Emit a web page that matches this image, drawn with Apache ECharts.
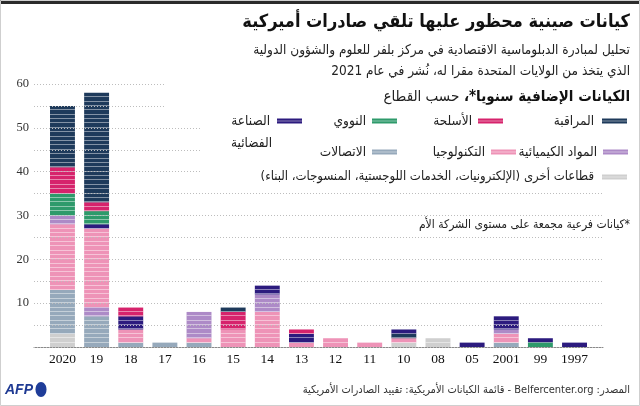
<!DOCTYPE html>
<html>
<head>
<meta charset="utf-8">
<script src="https://cdn.jsdelivr.net/npm/echarts@6/dist/echarts.min.js"></script>
<style>
html,body{margin:0;padding:0;background:#fff;}
#c{width:640px;height:406px;}
</style>
</head>
<body>
<div id="c" dir="rtl"></div>
<script>
// ---- Data ----
const years = ['2020','19','18','17','16','15','14','13','12','11','10','08','05','2001','99','1997'];
const surveillance = [14,25,0,0,0,1,0,0,0,0,1,0,0,0,0,0];
const weapons      = [6, 2, 2,0,0,4,0,1,0,0,0,0,0,0,0,0];
const nuclear      = [5, 3, 0,0,0,0,0,0,0,0,0,0,0,0,1,0];
const aerospace    = [0, 1, 3,0,0,0,2,2,0,0,1,0,1,3,1,1];
const chemicals    = [2, 2, 0,0,6,0,4,0,0,0,0,0,0,1,0,0];
const technology   = [15,18,3,0,1,4,8,1,2,1,1,0,0,2,0,0];
const telecom      = [10,7, 1,1,1,0,0,0,0,0,0,0,0,1,0,0];
const other        = [3, 0, 0,0,0,0,0,0,0,0,1,2,0,0,0,0];
const yTicks = [10,20,30,40,50,60];

const sectorNames = {
  surveillance:'المراقبة', weapons:'الأسلحة', nuclear:'النووي', aerospace:'الصناعة الفضائية',
  chemicals:'المواد الكيميائية', technology:'التكنولوجيا', telecom:'الاتصالات',
  other:'قطاعات أخرى (الإلكترونيات، الخدمات اللوجستية، المنسوجات، البناء)'
};
const defaultOrder = ['other','telecom','technology','chemicals','aerospace','nuclear','weapons','surveillance'];
const stackOrderOverrides = {
  '19': ['other','telecom','chemicals','technology','aerospace','nuclear','weapons','surveillance'],
  '10': ['other','telecom','technology','chemicals','surveillance','aerospace','nuclear','weapons'],
  '99': ['other','telecom','technology','chemicals','nuclear','aerospace','weapons','surveillance']
};

// ---- Styles ----
const colors = {
  surveillance:'#1e3a5b', weapons:'#d6236c', nuclear:'#2e9a6b', aerospace:'#2c1b7e',
  chemicals:'#ad8ac7', technology:'#ee93b7', telecom:'#96a9bb', other:'#cfcfcf'
};
const values = {surveillance, weapons, nuclear, aerospace, chemicals, technology, telecom, other};
const AR = '"DejaVu Sans Condensed", "DejaVu Sans"';
const SERIF = '"Liberation Serif"';

// ---- Stack segments ----
const segs = {};
defaultOrder.forEach(k => segs[k] = []);
years.forEach((y, i) => {
  const order = stackOrderOverrides[y] || defaultOrder;
  let base = 0;
  order.forEach(k => {
    const v = values[k][i];
    if (v > 0) { segs[k].push([i, base, base + v]); base += v; }
  });
});

function renderItem(params, api) {
  const i = api.value(0), s = api.value(1), e = api.value(2);
  const b = api.coord([i, s]);
  const t = api.coord([i, e]);
  const bw = api.size([1, 0])[0] * 0.73;
  const x = b[0] - bw / 2;
  const children = [{
    type: 'rect',
    shape: {x: x, y: t[1], width: bw, height: b[1] - t[1]},
    style: {fill: api.visual('color')}
  }];
  for (let k = s; k < e; k++) {
    if (k <= 0) continue;
    const yy = Math.round(api.coord([i, k])[1]);
    children.push({type: 'rect', shape: {x: x, y: yy - 1, width: bw, height: 1},
      style: {fill: 'rgba(255,255,255,0.45)'}});
  }
  return {type: 'group', children: children};
}

const series = defaultOrder.map(k => ({
  type: 'custom', name: sectorNames[k], xAxisIndex: 1, yAxisIndex: 1,
  itemStyle: {color: colors[k]}, renderItem: renderItem,
  encode: {x: 0, y: [1, 2]}, data: segs[k], z: 2
}));

// ---- Legend / text graphics ----
function txt(text, x, y, size, opts) {
  opts = opts || {};
  return {type: 'text', z: 120, style: Object.assign({
    text: text, x: x, y: y, fill: opts.fill || '#222',
    font: (opts.weight || 'normal') + ' ' + size + 'px ' + AR,
    textAlign: opts.align || 'right', align: opts.align || 'right',
    textVerticalAlign: 'middle', verticalAlign: 'middle'
  }, opts.extra || {})};
}
function icon(k, x, y) {
  return [
    {type: 'rect', z: 120, shape: {x: x, y: y - 2.5, width: 25, height: 5}, style: {fill: colors[k]}},
    {type: 'rect', z: 121, shape: {x: x, y: y - 0.5, width: 25, height: 1}, style: {fill: 'rgba(255,255,255,0.45)'}}
  ];
}
const legendItems = [
  ['surveillance', 602, 594, 121, 13.5], ['weapons', 478, 472, 121, 13.5], ['nuclear', 372, 366, 121, 13.5], ['aerospace', 277, 270, 121, 13.5],
  ['chemicals', 603, 597, 152, 13.5], ['technology', 491, 485, 152, 13.5], ['telecom', 372, 366, 152, 13.5],
  ['other', 602, 594, 177, 13]
];
const graphics = [
  {type: 'rect', z: 100, shape: {x: 165, y: 0, width: 475, height: 112}, style: {fill: '#fff'}},
  {type: 'rect', z: 100, shape: {x: 200, y: 112, width: 440, height: 74}, style: {fill: '#fff'}},
  {type: 'rect', z: 130, shape: {x: 0, y: 0, width: 640, height: 4}, style: {fill: '#2b2b2b'}},
  {type: 'rect', z: 130, shape: {x: 0.5, y: 0.5, width: 639, height: 405}, style: {fill: 'none', stroke: '#cfcfcf', lineWidth: 1}},
  txt('كيانات صينية محظور عليها تلقي صادرات أميركية', 630, 22, 18, {weight: 'bold', fill: '#111'}),
  txt('تحليل لمبادرة الدبلوماسية الاقتصادية في مركز بلفر للعلوم والشؤون الدولية', 630, 50, 13.5),
  txt('الذي يتخذ من الولايات المتحدة مقرا له، نُشر في عام 2021', 630, 71, 13.5),
  {type: 'text', z: 120, style: {
    text: '{n|حسب القطاع}{b|الكيانات الإضافية سنويا*، }', x: 630, y: 97,
    textAlign: 'right', align: 'right', textVerticalAlign: 'middle', verticalAlign: 'middle',
    rich: {
      n: {font: 'normal 15px ' + AR, fill: '#222'},
      b: {font: 'bold 15px ' + AR, fill: '#111'}
    }
  }},
  txt('*كيانات فرعية مجمعة على مستوى الشركة الأم', 630, 225, 12),
  txt('المصدر: Belfercenter.org - قائمة الكيانات الأمريكية: تقييد الصادرات الأمريكية', 630, 390, 11, {fill: '#333'}),
  {type: 'text', z: 120, style: {text: 'AFP', x: 5, y: 390, fill: '#1f3a93',
    font: 'italic bold 14px "Liberation Sans"', textAlign: 'left', align: 'left',
    textVerticalAlign: 'middle', verticalAlign: 'middle'}},
  {type: 'ellipse', z: 120, shape: {cx: 41, cy: 389.5, rx: 5.5, ry: 7.5}, style: {fill: '#1f3d99'}}
];
legendItems.forEach(([k, ix, tx, y, fs]) => {
  icon(k, ix, y).forEach(g => graphics.push(g));
  if (k === 'aerospace') {
    graphics.push(txt('الصناعة', tx, y, fs));
    graphics.push(txt('الفضائية', tx + 2, y + 22, fs));
  } else {
    graphics.push(txt(sectorNames[k], tx, y, fs));
  }
});

const chart = echarts.init(document.getElementById('c'), null, {renderer: 'canvas'});
chart.setOption({
  animation: false,
  backgroundColor: '#fff',
  grid: [
    {left: 34, right: 37, top: 84, bottom: 59},
    {left: 45.4, right: 48.4, top: 84, bottom: 59}
  ],
  xAxis: [
    {gridIndex: 0, type: 'value', min: 0, max: 1, axisLine: {show: true, onZero: false, lineStyle: {color: '#8a8a8a', width: 1}},
     axisTick: {show: false}, axisLabel: {show: false}, splitLine: {show: false}},
    {gridIndex: 1, type: 'category', data: years, axisLine: {show: false}, axisTick: {show: false},
     axisLabel: {interval: 0, fontFamily: SERIF, fontSize: 13.5, color: '#111', margin: 5}}
  ],
  yAxis: [
    {gridIndex: 0, type: 'value', min: 0, max: 60, interval: 5, z: 10,
     axisLine: {show: false}, axisTick: {show: false},
     axisLabel: {formatter: v => yTicks.indexOf(v) >= 0 ? String(v) : '', fontFamily: SERIF, fontSize: 12.5, color: '#333', margin: 5},
     splitLine: {show: true, lineStyle: {color: '#bdbdbd', width: 1, type: [1, 2]}}},
    {gridIndex: 1, type: 'value', min: 0, max: 60, show: false}
  ],
  series: series,
  graphic: {elements: graphics}
});
</script>
</body>
</html>
